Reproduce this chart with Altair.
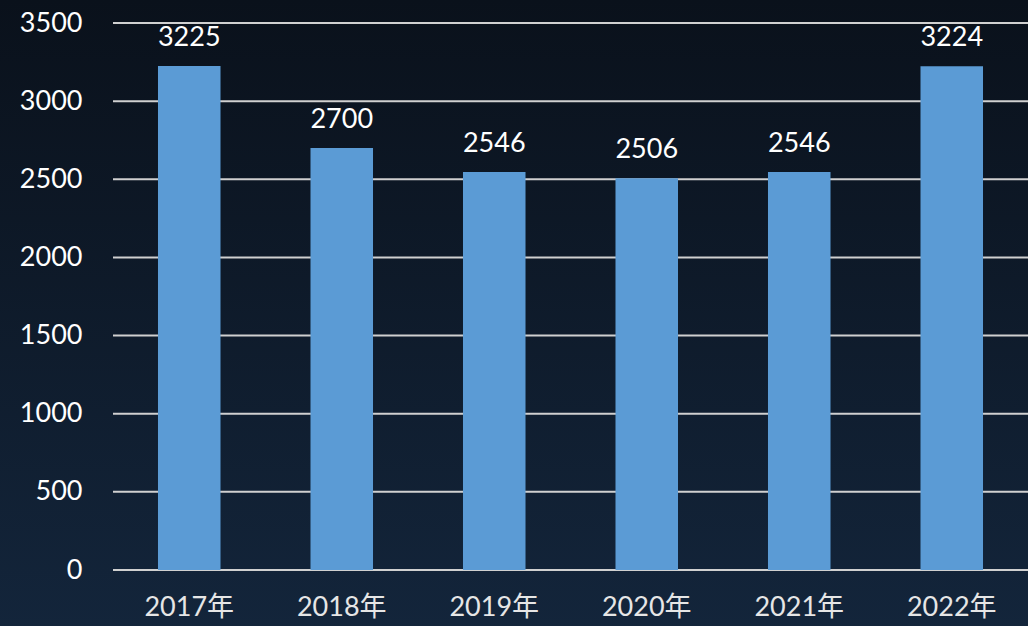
import altair as alt
import pandas as pd

years = ["2017年", "2018年", "2019年", "2020年", "2021年", "2022年"]
values = [3225, 2700, 2546, 2506, 2546, 3224]
y_ticks = [0, 500, 1000, 1500, 2000, 2500, 3000, 3500]

df = pd.DataFrame({"year": years, "value": values})
grid_df = pd.DataFrame({"tick": y_ticks})

W, H = 915, 547
FONT = "Lato, 'Noto Sans CJK SC', sans-serif"
FS = 27

y_scale = alt.Scale(domain=[0, 3500], nice=False)

bg = alt.Chart(pd.DataFrame({"k": [0]})).mark_rect(
    fill=alt.Gradient(
        gradient="linear",
        stops=[alt.GradientStop(color="#0a111b", offset=0),
               alt.GradientStop(color="#13253b", offset=1)],
        x1=0, x2=0, y1=0, y2=1,
    ),
    clip=False,
).encode(
    x=alt.value(-113), x2=alt.value(W + 5),
    y=alt.value(-23), y2=alt.value(H + 60),
)

grid = alt.Chart(grid_df).mark_rule(color="#d0d0d0", strokeWidth=2).encode(
    y=alt.Y("tick:Q", scale=y_scale, title=None,
            axis=alt.Axis(values=y_ticks, format="d", domain=False, ticks=False,
                          grid=False, labelFontSize=FS, labelColor="#ffffff",
                          labelFont=FONT, labelPadding=31, zindex=1)),
    x=alt.value(0), x2=alt.value(W),
)

base = alt.Chart(df).encode(
    x=alt.X("year:N", sort=years, title=None,
            scale=alt.Scale(paddingInner=0.59, paddingOuter=0.295),
            axis=alt.Axis(labelAngle=0, domain=False, ticks=False,
                          labelFontSize=FS, labelColor="#e6e6e6",
                          labelFont=FONT, labelPadding=24, grid=False, zindex=1)),
    y=alt.Y("value:Q", scale=y_scale, title=None),
)

bars = base.mark_bar(color="#5b9bd5")
text = base.mark_text(baseline="bottom", dy=-14, fontSize=FS,
                      color="#ffffff", font=FONT).encode(text="value:Q")

chart = alt.layer(bg, grid, bars, text).properties(
    width=W, height=H,
    autosize=alt.AutoSizeParams(type="none"),
    padding={"left": 113, "top": 23, "right": 0, "bottom": 56},
    background="#0f1b2c",
).configure_view(stroke=None)

chart.save("out.html", embed_options={"renderer": "svg", "actions": False})
